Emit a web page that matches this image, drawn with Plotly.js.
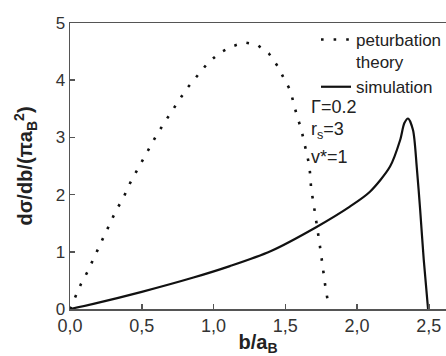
<!DOCTYPE html>
<html><head><meta charset="utf-8">
<script src="https://cdn.plot.ly/plotly-3.0.1.min.js"></script>
<style>html,body{margin:0;padding:0;background:#fff}#chart{width:446px;height:356px}</style>
</head><body><div id="chart"></div>
<script>
const pertB = [0,0.04,0.077,0.12,0.159,0.2,0.24,0.28,0.32,0.37,0.41,0.455,0.5,0.548,0.594,0.648,0.7,0.757,0.816,0.886,0.96,1.044,1.128,1.214,1.303,1.385,1.448,1.497,1.536,1.56,1.583,1.61,1.63,1.65,1.667,1.675,1.68,1.695,1.706,1.72,1.734,1.746,1.757,1.77,1.78,1.795];
const pertY = [0,0.23,0.44,0.64,0.86,1.07,1.29,1.5,1.72,1.93,2.16,2.37,2.58,2.79,3.0,3.22,3.43,3.64,3.86,4.07,4.3,4.48,4.59,4.66,4.62,4.47,4.24,4.0,3.82,3.58,3.36,3.16,2.95,2.73,2.52,2.31,2.1,1.88,1.67,1.45,1.23,1.02,0.8,0.59,0.38,0.16];
const simB = [0,0.163,0.5,0.86,1.114,1.397,1.715,1.95,2.09,2.23,2.30,2.33,2.356,2.39,2.416,2.44,2.465,2.495];
const simY = [0,0.09,0.30,0.55,0.75,1.01,1.43,1.79,2.05,2.49,2.95,3.25,3.33,3.13,2.49,1.73,0.86,0];
const xTicks = [0,0.5,1.0,1.5,2.0,2.5];
const yTicks = [0,1,2,3,4,5];
const legendNames = ["peturbation<br>theory","simulation"];
const paramLabels = ["Γ=0.2","r<sub>s</sub>=3","v*=1"];

const font = "Liberation Sans, Arial, sans-serif";
const W = 446, H = 356;
const traces = [
  {x: pertB, y: pertY, mode: "lines", name: legendNames[0],
   line: {color: "#111", width: 2.6, dash: "2.6px,10px"}},
  {x: simB, y: simY, mode: "lines", name: legendNames[1],
   line: {color: "#111", width: 2.2, shape: "spline", smoothing: 0.8}}
];
const annY = [107, 130, 157];
const ann = paramLabels.map((t, i) => ({
  text: t, xref: "paper", yref: "paper", x: (309-70)/376, y: (309-annY[i])/286,
  xanchor: "left", yanchor: "middle", showarrow: false, font: {family: font, size: 18, color: "#222"}
}));
const layout = {
  width: W, height: H,
  margin: {l: 70, r: 0, t: 23, b: 47, autoexpand: false},
  paper_bgcolor: "#fff", plot_bgcolor: "#fff",
  separators: ",.",
  showlegend: true,
  legend: {x: (316-70)/376, y: (309-22)/286, xanchor: "left", yanchor: "top",
    bgcolor: "rgba(0,0,0,0)", font: {family: font, size: 17, color: "#222"},
    valign: "top", tracegroupgap: 0},
  xaxis: {range: [0, 2.62], tickvals: xTicks, tickformat: ".1f", automargin: false,
    ticks: "inside", ticklen: 5, tickcolor: "#555", tickwidth: 1.5,
    showline: true, linecolor: "#555", linewidth: 1.5, mirror: true,
    showgrid: false, zeroline: false,
    tickfont: {family: font, size: 18, color: "#333"},
    title: {text: "<b>b/a<sub>B</sub></b>", font: {family: font, size: 20, color: "#222"}, standoff: 0}},
  yaxis: {range: [0, 5], tickvals: yTicks, automargin: false,
    ticks: "inside", ticklen: 5, tickcolor: "#555", tickwidth: 1.5,
    showline: true, linecolor: "#555", linewidth: 1.5,
    showgrid: false, zeroline: false,
    tickfont: {family: font, size: 17, color: "#333"},
    title: {text: "<b>dσ/db/(πa<sub>B</sub><sup>2</sup>)</b>", font: {family: font, size: 20, color: "#222"}, standoff: 17}},
  annotations: ann
};
Plotly.newPlot("chart", traces, layout, {displayModeBar: false, staticPlot: true});
</script></body></html>
